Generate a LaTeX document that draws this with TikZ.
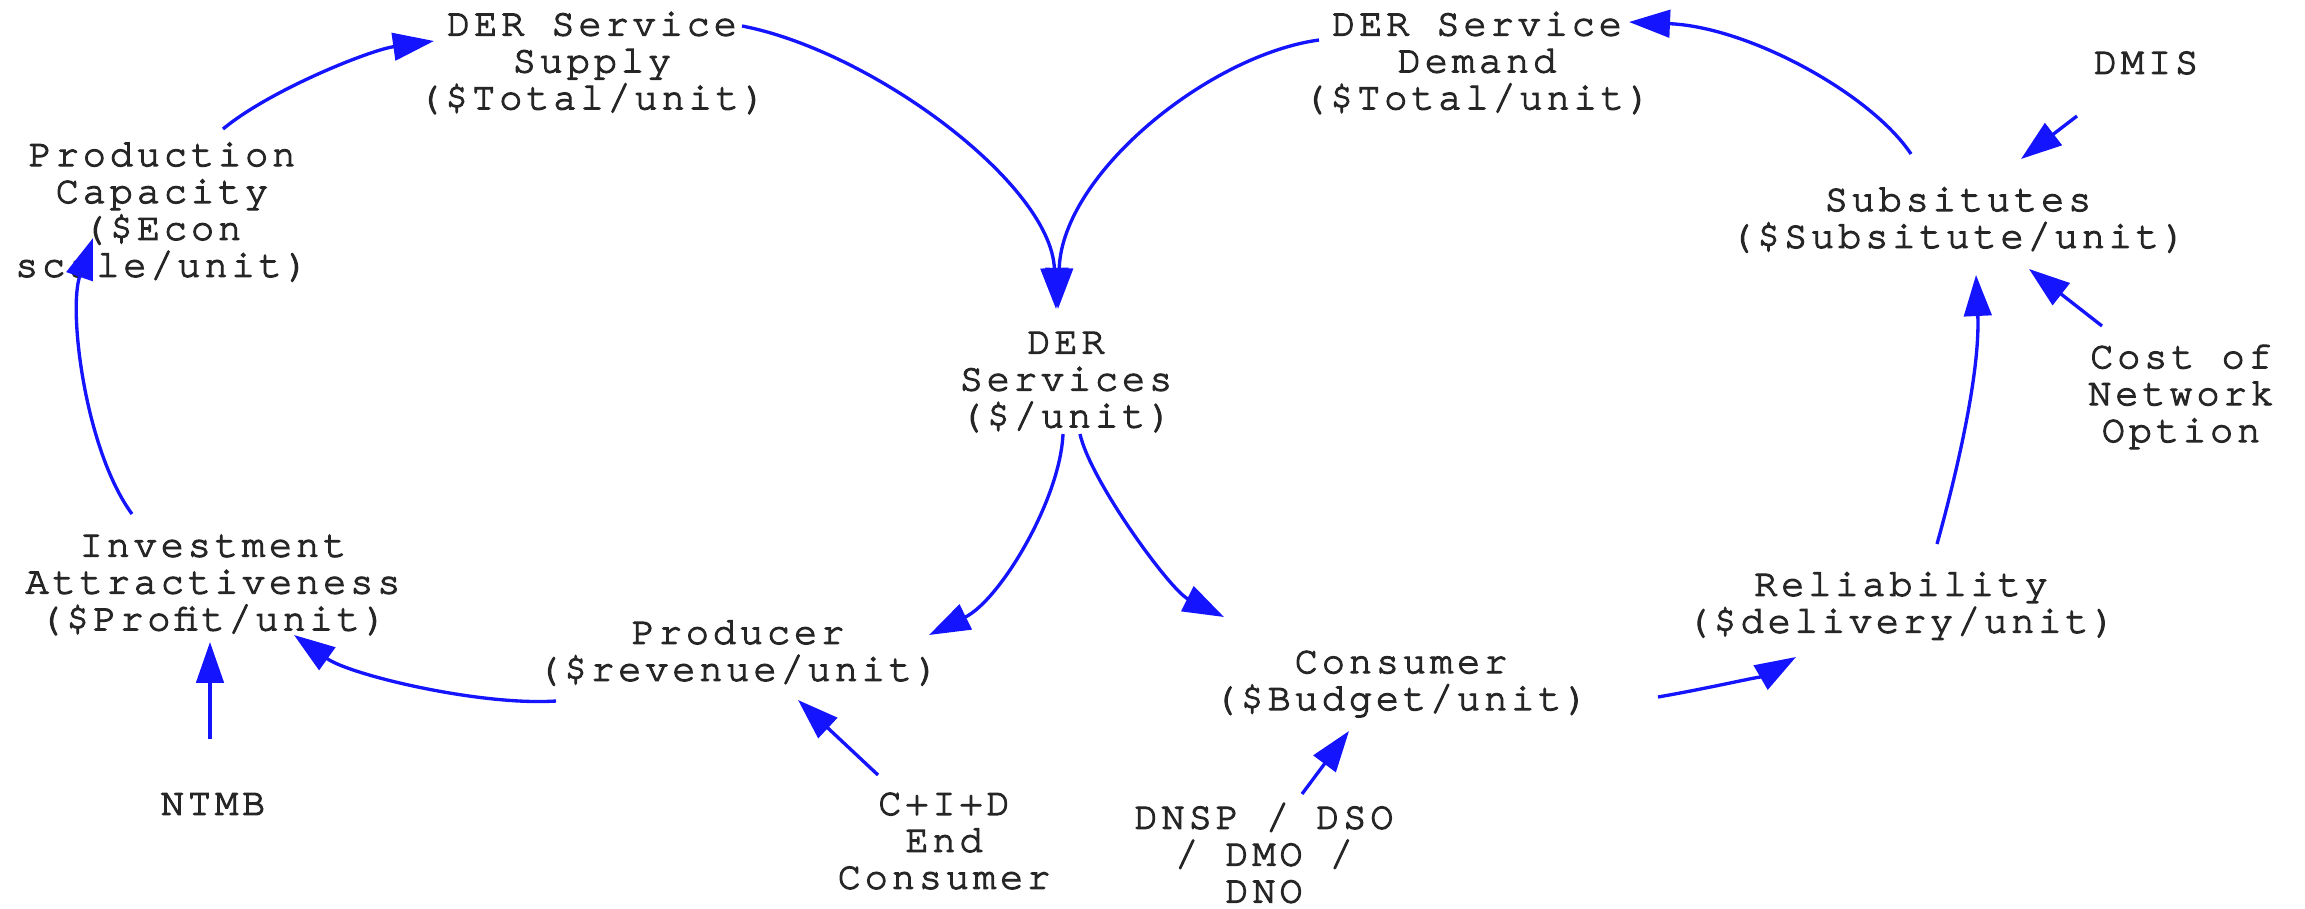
\documentclass[tikz,border=0pt]{standalone}
\usepackage{fontspec}
\newfontfamily\lblfont{texgyrecursor-regular.otf}[LetterSpace=10, FakeBold=3]
\usetikzlibrary{arrows.meta}
\definecolor{linkblue}{RGB}{20,20,255}
\tikzset{
  lbl/.style={align=center, inner sep=0pt, text=black!85,
    font=\lblfont\fontsize{22}{21}\selectfont},
  link/.style={draw=linkblue, line width=1.9pt,
    -{Triangle[length=0.82cm, width=0.55cm]}, fill=none},
}
\begin{document}
\begin{tikzpicture}[x=0.02cm, y=-0.02cm]
\useasboundingbox (0,0) rectangle (2305,909);

% variables
\node[lbl] (sup)  at (592,63)   {DER Service\\Supply\\(\$Total/unit)};
\node[lbl] (dem)  at (1477,63)  {DER Service\\Demand\\(\$Total/unit)};
\node[lbl] (dmis) at (2146,63)  {DMIS};
\node[lbl] (sub)  at (1958,220) {Subsitutes\\(\$Subsitute/unit)};
\node[lbl] (cost) at (2181,397) {Cost of\\Network\\Option};
\node[lbl] (prod) at (162,212)  {Production\\Capacity\\(\$Econ\\scale/unit)};
\node[lbl] (svc)  at (1066,382) {DER\\Services\\(\$/unit)};
\node[lbl] (inv)  at (213,585)  {Investment\\Attractiveness\\(\$Profit/unit)};
\node[lbl] (pro)  at (738,653)  {Producer\\(\$revenue/unit)};
\node[lbl] (con)  at (1401,684) {Consumer\\(\$Budget/unit)};
\node[lbl] (rel)  at (1901,606) {Reliability\\(\$delivery/unit)};
\node[lbl] (ntmb) at (213,804)  {NTMB};
\node[lbl] (cid)  at (944,841)  {C+I+D\\End\\Consumer};
\node[lbl] (dnsp) at (1264,853) {DNSP / DSO\\/ DMO /\\DNO};

% causal links
\draw[link] ([shift={(150,-37)}]sup.center)
  .. controls +(130,25) and +(-5,-125) .. ([shift={(-10,-73)}]svc.center);
\draw[link] ([shift={(-158,-23)}]dem.center)
  .. controls +(-110,15) and +(4,-135) .. ([shift={(-8,-73)}]svc.center);
\draw[link] ([shift={(-47,-66)}]sub.center)
  .. controls +(-40,-60) and +(120,5) .. ([shift={(152,-41)}]dem.center);
\draw[link] ([shift={(-69,53)}]dmis.center) -- ([shift={(63,-61)}]sub.center);
\draw[link] ([shift={(-79,-71)}]cost.center) -- ([shift={(71,49)}]sub.center);
\draw[link] ([shift={(36,-62)}]rel.center)
  .. controls +(25,-90) and +(4,90) .. ([shift={(18,55)}]sub.center);
\draw[link] ([shift={(257,13)}]con.center)
  .. controls +(52,-9) and +(-31,18) .. ([shift={(-105,51)}]rel.center);
\draw[link] ([shift={(14,52)}]svc.center)
  .. controls +(10,46) and +(-54,-27) .. ([shift={(-177,-67)}]con.center);
\draw[link] ([shift={(-3,52)}]svc.center)
  .. controls +(-3,66) and +(71,-35) .. ([shift={(191,-18)}]pro.center);
\draw[link] ([shift={(-182,48)}]pro.center)
  .. controls +(-76,5) and +(56,40) .. ([shift={(81,50)}]inv.center);
\draw[link] ([shift={(-3,-65)}]ntmb.center) -- ([shift={(-3,57)}]inv.center);
\draw[link] ([shift={(-66,-66)}]cid.center) -- ([shift={(60,47)}]pro.center);
\draw[link] ([shift={(38,-59)}]dnsp.center) -- ([shift={(-52,47)}]con.center);
\draw[link] ([shift={(-81,-71)}]inv.center)
  .. controls +(-47,-64) and +(-25,72) .. ([shift={(-69,26)}]prod.center);
\draw[link] ([shift={(61,-83)}]prod.center)
  .. controls +(47,-39) and +(-64,9) .. ([shift={(-158,-22)}]sup.center);
\end{tikzpicture}
\end{document}
